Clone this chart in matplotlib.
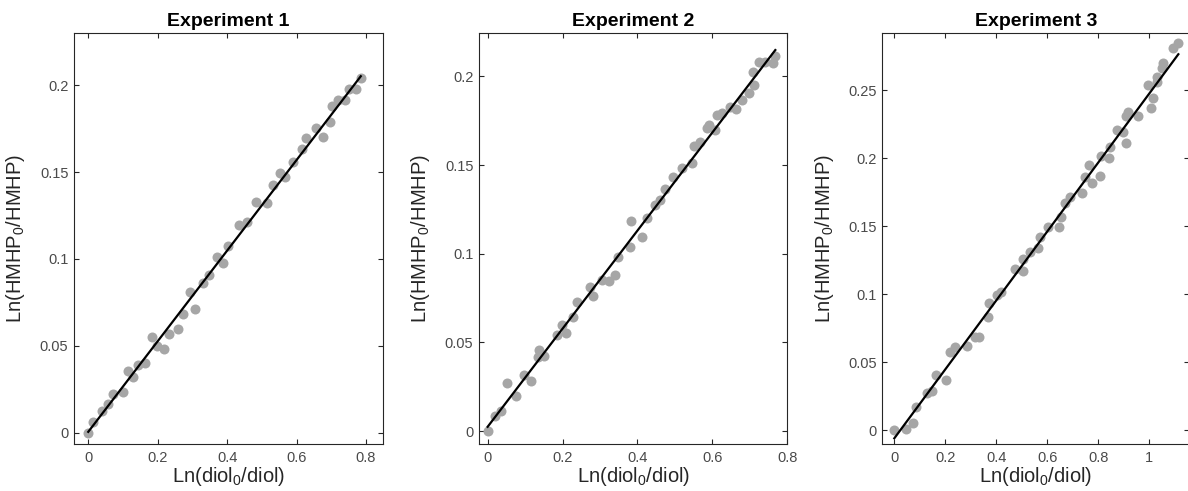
import numpy as np
import matplotlib
matplotlib.use("Agg")
import matplotlib.pyplot as plt

plt.rcParams['font.family'] = ['Liberation Sans', 'DejaVu Sans']
plt.rcParams['mathtext.fontset'] = 'custom'
plt.rcParams['mathtext.rm'] = 'Liberation Sans'
plt.rcParams['mathtext.it'] = 'Liberation Sans'

titles = ["Experiment 1", "Experiment 2", "Experiment 3"]
xlabel = r"Ln(diol$_\mathregular{0}$/diol)"
ylabel = r"Ln(HMHP$_\mathregular{0}$/HMHP)"

# Experiment 1
x1 = [0, 0.014, 0.039, 0.058, 0.072, 0.099, 0.115, 0.130, 0.144, 0.163, 0.183, 0.197,
      0.219, 0.233, 0.259, 0.274, 0.293, 0.307, 0.331, 0.349, 0.370, 0.387, 0.403,
      0.435, 0.456, 0.483, 0.514, 0.531, 0.552, 0.567, 0.591, 0.615, 0.627, 0.656,
      0.675, 0.695, 0.701, 0.720, 0.740, 0.752, 0.771, 0.785]
y1 = [0, 0.0063, 0.0127, 0.0165, 0.0223, 0.0236, 0.0355, 0.0322, 0.0390, 0.0403, 0.0553, 0.0499,
      0.0480, 0.0566, 0.0595, 0.0683, 0.0812, 0.0710, 0.0860, 0.0908, 0.1013, 0.0979, 0.1075,
      0.1196, 0.1215, 0.1330, 0.1324, 0.1426, 0.1497, 0.1474, 0.1560, 0.1632, 0.1695, 0.1752,
      0.1704, 0.1790, 0.1880, 0.1915, 0.1915, 0.1977, 0.1980, 0.2040]
fit1 = (0.2607, 0.0005)

# Experiment 2
x2 = [0, 0.0195, 0.037, 0.051, 0.076, 0.097, 0.115, 0.135, 0.138, 0.151, 0.184, 0.198,
      0.209, 0.229, 0.238, 0.272, 0.281, 0.305, 0.323, 0.339, 0.349, 0.380, 0.382,
      0.412, 0.425, 0.447, 0.459, 0.474, 0.496, 0.519, 0.545, 0.552, 0.568, 0.585,
      0.592, 0.608, 0.612, 0.626, 0.648, 0.664, 0.679, 0.697, 0.710, 0.709, 0.724,
      0.741, 0.762, 0.768]
y2 = [0, 0.0085, 0.0115, 0.0273, 0.0197, 0.0316, 0.0282, 0.0419, 0.0460, 0.0423, 0.0541, 0.0598,
      0.0555, 0.0645, 0.0729, 0.0814, 0.0761, 0.0852, 0.0846, 0.0880, 0.0983, 0.1036, 0.1186,
      0.1092, 0.1200, 0.1275, 0.1303, 0.1363, 0.1434, 0.1482, 0.1510, 0.1607, 0.1632, 0.1707,
      0.1726, 0.1698, 0.1782, 0.1795, 0.1829, 0.1814, 0.1867, 0.1905, 0.1951, 0.2026, 0.2083,
      0.2083, 0.2074, 0.2115]
fit2 = (0.2767, 0.0024)

# Experiment 3
x3 = [0, 0.046, 0.072, 0.085, 0.127, 0.147, 0.164, 0.201, 0.218, 0.238, 0.284, 0.316,
      0.333, 0.369, 0.373, 0.404, 0.417, 0.473, 0.503, 0.506, 0.532, 0.565, 0.571,
      0.604, 0.647, 0.652, 0.669, 0.689, 0.737, 0.747, 0.765, 0.776, 0.805, 0.810,
      0.841, 0.846, 0.872, 0.896, 0.909, 0.909, 0.918, 0.957, 1.005, 1.013, 0.996,
      1.029, 1.031, 1.050, 1.055, 1.094, 1.114]
y3 = [0, 0.0005, 0.0054, 0.0171, 0.0270, 0.0289, 0.0404, 0.0368, 0.0576, 0.0608, 0.0618, 0.0681,
      0.0686, 0.0833, 0.0931, 0.0993, 0.1017, 0.1181, 0.1172, 0.1255, 0.1311, 0.1336, 0.1422,
      0.1495, 0.1495, 0.1568, 0.1667, 0.1716, 0.1740, 0.1863, 0.1949, 0.1816, 0.1866, 0.2012,
      0.2003, 0.2083, 0.2208, 0.2194, 0.2108, 0.2309, 0.2341, 0.2309, 0.2365, 0.2439, 0.2537,
      0.2561, 0.2598, 0.2660, 0.2696, 0.2807, 0.2848]
fit3 = (0.2536, -0.0061)

xs = [x1, x2, x3]
ys = [y1, y2, y3]
fits = [fit1, fit2, fit3]
xlims = [(-0.041, 0.849), (-0.023, 0.80), (-0.047, 1.157)]
ylims = [(-0.0065, 0.230), (-0.0073, 0.2245), (-0.0103, 0.292)]
xticks = [[0, 0.2, 0.4, 0.6, 0.8], [0, 0.2, 0.4, 0.6, 0.8], [0, 0.2, 0.4, 0.6, 0.8, 1]]
yticks = [[0, 0.05, 0.1, 0.15, 0.2], [0, 0.05, 0.1, 0.15, 0.2], [0, 0.05, 0.1, 0.15, 0.2, 0.25]]
lefts = [0.0623, 0.4032, 0.7427]
widths = [0.2601, 0.2595, 0.2584]

W, H = 1188, 491
fig = plt.figure(figsize=(W / 100, H / 100), dpi=100)

def fmt(v):
    return '%g' % v

for i in range(3):
    ax = fig.add_axes([lefts[i], 0.0957, widths[i], 0.837])
    ax.plot(xs[i], ys[i], 'o', color='#a6a6a6', ms=7.2, mec='none', zorder=2)
    xx = np.array([min(xs[i]), max(xs[i])])
    ax.plot(xx, fits[i][0] * xx + fits[i][1], '-', color='black', lw=1.6, zorder=3)
    ax.set_xlim(*xlims[i])
    ax.set_ylim(*ylims[i])
    ax.set_xticks(xticks[i])
    ax.set_yticks(yticks[i])
    ax.set_xticklabels([fmt(v) for v in xticks[i]])
    ax.set_yticklabels([fmt(v) for v in yticks[i]])
    ax.tick_params(direction='in', top=True, right=True, length=3.5, width=0.8,
                   colors='#262626', labelcolor='#4a4a4a', labelsize=10.5)
    ax.tick_params(axis='x', pad=5)
    ax.tick_params(axis='y', pad=4)
    for sp in ax.spines.values():
        sp.set_color('#262626')
        sp.set_linewidth(0.8)
    ax.set_title(titles[i], fontsize=14, fontweight='bold', pad=5)
    ax.set_xlabel(xlabel, fontsize=14.5, color='#262626', labelpad=0)
    ax.set_ylabel(ylabel, fontsize=14.5, color='#262626', labelpad=9)

fig.savefig('out.png', dpi=100)
